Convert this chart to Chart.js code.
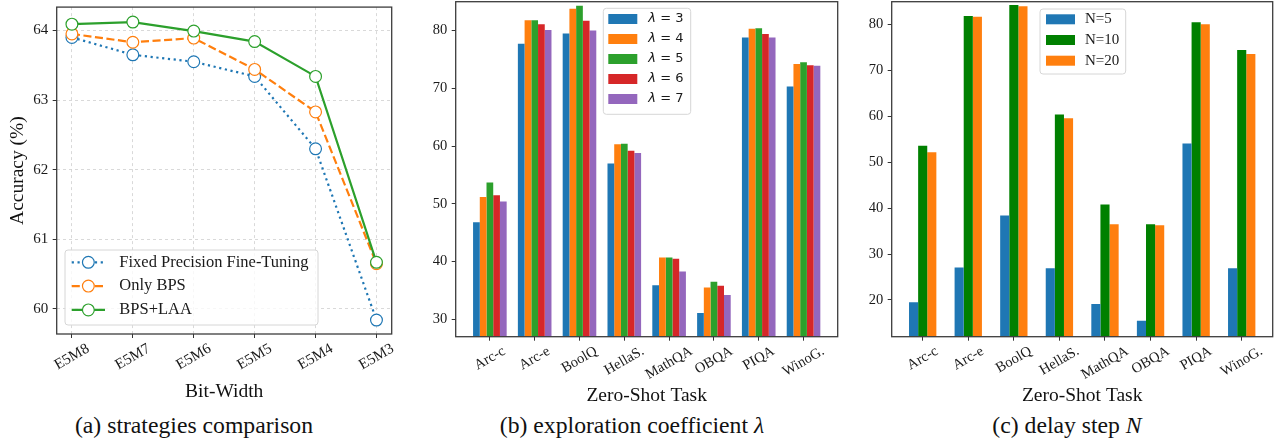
<!DOCTYPE html>
<html>
<head>
<meta charset="utf-8">
<script src="https://cdn.jsdelivr.net/npm/chart.js@4.4.1/dist/chart.umd.min.js"></script>
<style>
  body { margin: 0; background: #fff; width: 1276px; height: 444px; position: relative; overflow: hidden; font-family: 'Liberation Serif', 'Times New Roman', serif; }
  .panel { position: absolute; top: 0; height: 410px; }
  .caption { position: absolute; top: 413.5px; font-size: 23.7px; line-height: 1; color: #111; white-space: nowrap; transform: translateX(-50%); }
</style>
</head>
<body>
<div class="panel" style="left:0;width:410px"><canvas id="chart-a"></canvas></div>
<div class="panel" style="left:420px;width:425px"><canvas id="chart-b"></canvas></div>
<div class="panel" style="left:850px;width:426px"><canvas id="chart-c"></canvas></div>
<div class="caption" style="left:194px">(a) strategies comparison</div>
<div class="caption" style="left:632px">(b) exploration coefficient <i>λ</i></div>
<div class="caption" style="left:1067px">(c) delay step <i>N</i></div>

<script>
// (a) accuracy vs bit-width
const bitWidths = ['E5M8', 'E5M7', 'E5M6', 'E5M5', 'E5M4', 'E5M3'];
const fixedPrecision = [63.90, 63.65, 63.55, 63.34, 62.30, 59.84];
const onlyBps = [63.95, 63.83, 63.89, 63.44, 62.83, 60.65];
const bpsLaa = [64.09, 64.12, 63.99, 63.84, 63.34, 60.67];
const accuracyTicks = [60, 61, 62, 63, 64];

// (b) / (c) zero-shot tasks
const tasks = ['Arc-c', 'Arc-e', 'BoolQ', 'HellaS.', 'MathQA', 'OBQA', 'PIQA', 'WinoG.'];
const lambda3 = [46.8, 77.7, 79.5, 57.0, 35.9, 31.1, 78.8, 70.3];
const lambda4 = [51.2, 81.8, 83.8, 60.3, 40.7, 35.5, 80.3, 74.2];
const lambda5 = [53.7, 81.8, 84.3, 60.4, 40.7, 36.5, 80.4, 74.5];
const lambda6 = [51.5, 81.1, 81.7, 59.2, 40.5, 35.8, 79.4, 74.0];
const lambda7 = [50.4, 80.1, 80.0, 58.8, 38.3, 34.2, 78.8, 73.9];
const lambdaTicks = [30, 40, 50, 60, 70, 80];

const delay5 = [19.5, 27.1, 38.4, 26.9, 19.1, 15.5, 54.1, 26.9];
const delay10 = [53.6, 81.9, 84.3, 60.4, 40.8, 36.5, 80.5, 74.5];
const delay20 = [52.2, 81.7, 84.0, 59.6, 36.5, 36.3, 80.1, 73.6];
const delayTicks = [20, 30, 40, 50, 60, 70, 80];

Chart.defaults.font.family = "'Liberation Serif', 'Times New Roman', serif";
Chart.defaults.color = '#1a1a1a';
Chart.defaults.animation = false;
Chart.defaults.events = [];
Chart.defaults.plugins.legend.display = false;
Chart.defaults.plugins.tooltip.enabled = false;

const TICK_COLOR = '#333';
const points = (values) => values.map((y, x) => ({ x, y }));
const fixTicks = (values) => (scale) => { scale.ticks = values.map((value) => ({ value })); };

// axes box (all four spines)
const frameBox = {
  id: 'frameBox',
  afterDatasetsDraw(chart) {
    const { ctx, chartArea: a } = chart;
    ctx.save();
    ctx.strokeStyle = '#3c3c3c';
    ctx.lineWidth = 1.3;
    ctx.strokeRect(a.left, a.top, a.right - a.left, a.bottom - a.top);
    ctx.restore();
  },
};

// x labels rotated 30deg, centred on the tick like matplotlib
const slantedTicks = {
  id: 'slantedTicks',
  afterDraw(chart, args, opts) {
    const scale = chart.scales.x;
    const { ctx } = chart;
    const angle = Math.PI / 6;
    ctx.save();
    ctx.font = `${opts.size}px 'Liberation Serif', serif`;
    ctx.fillStyle = '#1a1a1a';
    ctx.textAlign = 'center';
    ctx.textBaseline = 'middle';
    scale.ticks.forEach((tick, i) => {
      const text = opts.labels[tick.value];
      const w = ctx.measureText(text).width;
      const boxH = w * Math.sin(angle) + opts.size * 1.1 * Math.cos(angle);
      ctx.save();
      ctx.translate(scale.getPixelForTick(i), chart.chartArea.bottom + opts.gap + boxH / 2);
      ctx.rotate(-angle);
      ctx.fillText(text, 0, 0);
      ctx.restore();
    });
    ctx.restore();
  },
};

// legend drawn inside the axes, with a light frame
const insetLegend = {
  id: 'insetLegend',
  afterDatasetsDraw(chart, args, o) {
    const { ctx } = chart;
    ctx.save();
    ctx.beginPath();
    ctx.roundRect(o.box[0], o.box[1], o.box[2], o.box[3], 3);
    ctx.fillStyle = 'rgba(255,255,255,0.8)';
    ctx.fill();
    ctx.strokeStyle = '#d6d6d6';
    ctx.lineWidth = 1;
    ctx.stroke();
    chart.data.datasets.forEach((ds, i) => {
      const y = o.firstY + i * o.rowGap;
      if (o.kind === 'line') {
        ctx.save();
        ctx.strokeStyle = ds.borderColor;
        ctx.lineWidth = ds.borderWidth;
        ctx.setLineDash(ds.borderDash || []);
        ctx.beginPath();
        ctx.moveTo(o.symbolX, y);
        ctx.lineTo(o.symbolX + o.symbolW, y);
        ctx.stroke();
        ctx.setLineDash([]);
        ctx.beginPath();
        ctx.arc(o.symbolX + o.symbolW / 2, y, ds.pointRadius, 0, Math.PI * 2);
        ctx.fillStyle = '#fff';
        ctx.fill();
        ctx.lineWidth = ds.pointBorderWidth;
        ctx.stroke();
        ctx.restore();
      } else {
        ctx.fillStyle = ds.backgroundColor;
        ctx.fillRect(o.symbolX, y - o.patchH / 2, o.symbolW, o.patchH);
      }
      ctx.fillStyle = '#1a1a1a';
      ctx.textAlign = 'left';
      ctx.textBaseline = 'middle';
      let x = o.textX;
      if (o.italicHead) {
        const head = ds.label.slice(0, 1);
        ctx.font = `italic ${o.size}px ${o.family}`;
        ctx.fillText(head, x, y);
        x += ctx.measureText(head).width;
        ctx.font = `${o.size}px ${o.family}`;
        ctx.fillText(ds.label.slice(1), x, y);
      } else {
        ctx.font = `${o.size}px ${o.family}`;
        ctx.fillText(ds.label, x, y);
      }
    });
    ctx.restore();
  },
};

function valueAxis({ min, max, ticks, width, size, grid, title }) {
  return {
    type: 'linear',
    min,
    max,
    afterBuildTicks: fixTicks(ticks),
    afterFit(scale) { scale.width = width; scale.paddingTop = 0; scale.paddingBottom = 0; },
    ticks: { font: { size }, padding: 4.5, color: '#1a1a1a' },
    grid: { drawOnChartArea: grid, color: '#d0d0d0', lineWidth: 0.8, tickLength: 4, tickColor: TICK_COLOR, tickWidth: 1, tickBorderDash: [] },
    border: { display: false, dash: [3, 3] },
    title: title || { display: false },
  };
}

function indexAxis({ min, max, count, height, grid, title, titlePad }) {
  return {
    type: 'linear',
    min,
    max,
    offset: false,
    afterBuildTicks: fixTicks([...Array(count).keys()]),
    afterFit(scale) { scale.height = height; scale.paddingLeft = 0; scale.paddingRight = 0; },
    ticks: { display: false },
    grid: { offset: false, drawOnChartArea: grid, color: '#d0d0d0', lineWidth: 0.8, tickLength: 4, tickColor: TICK_COLOR, tickWidth: 1, tickBorderDash: [] },
    border: { display: false, dash: [3, 3] },
    title: { display: true, text: title, font: { size: 19.5 }, color: '#111', padding: { top: 0, bottom: titlePad } },
  };
}

const lineStyle = { borderWidth: 2.2, pointRadius: 5.9, pointHoverRadius: 5.9, pointBorderWidth: 1.2, pointBackgroundColor: '#fff', tension: 0, fill: false };

new Chart(document.getElementById('chart-a'), {
  type: 'line',
  data: {
    datasets: [
      { label: 'Fixed Precision Fine-Tuning', data: points(fixedPrecision), borderColor: '#1f77b4', pointBorderColor: '#1f77b4', borderDash: [2.2, 3.6], order: 2, ...lineStyle },
      { label: 'Only BPS', data: points(onlyBps), borderColor: '#ff7f0e', pointBorderColor: '#ff7f0e', borderDash: [8.1, 3.5], order: 1, ...lineStyle },
      { label: 'BPS+LAA', data: points(bpsLaa), borderColor: '#2ca02c', pointBorderColor: '#2ca02c', order: 0, ...lineStyle },
    ],
  },
  options: {
    responsive: true,
    maintainAspectRatio: false,
    layout: { padding: { left: 0, right: 18.3, top: 2.3, bottom: 0 } },
    scales: {
      x: indexAxis({ min: -0.25, max: 5.25, count: bitWidths.length, height: 76, grid: true, title: 'Bit-Width', titlePad: 6.8 }),
      y: valueAxis({
        min: 59.64, max: 64.335, ticks: accuracyTicks, width: 56.7, size: 15, grid: true,
        title: { display: true, text: 'Accuracy (%)', font: { size: 19.5 }, color: '#111', padding: { top: 6.6, bottom: 0 } },
      }),
    },
    plugins: {
      slantedTicks: { labels: bitWidths, size: 15, gap: 6.5 },
      insetLegend: { kind: 'line', box: [65, 250, 253, 75], firstY: 262.3, rowGap: 23.8, symbolX: 71.7, symbolW: 33.3, textX: 119.3, size: 16.5, family: "'Liberation Serif', serif" },
    },
  },
  plugins: [frameBox, insetLegend, slantedTicks],
});

function barSet(label, values, color) {
  return { label, data: points(values), backgroundColor: color, borderWidth: 0 };
}

new Chart(document.getElementById('chart-b'), {
  type: 'bar',
  data: {
    datasets: [
      barSet('λ = 3', lambda3, '#1f77b4'),
      barSet('λ = 4', lambda4, '#ff7f0e'),
      barSet('λ = 5', lambda5, '#2ca02c'),
      barSet('λ = 6', lambda6, '#d62728'),
      barSet('λ = 7', lambda7, '#9467bd'),
    ],
  },
  options: {
    responsive: true,
    maintainAspectRatio: false,
    categoryPercentage: 0.75,
    barPercentage: 1,
    layout: { padding: { left: 0, right: 7.3, top: 1.7, bottom: 0 } },
    scales: {
      x: indexAxis({ min: -0.7625, max: 7.7625, count: tasks.length, height: 73.3, grid: false, title: 'Zero-Shot Task', titlePad: 2 }),
      y: valueAxis({ min: 27, max: 85, ticks: lambdaTicks, width: 35.7, size: 14.5, grid: false }),
    },
    plugins: {
      slantedTicks: { labels: tasks, size: 14.5, gap: 6.5 },
      insetLegend: { kind: 'patch', box: [183.3, 8.3, 87.4, 106], firstY: 19, rowGap: 20, symbolX: 188.3, symbolW: 29, patchH: 10, textX: 228.3, size: 13, family: "'DejaVu Sans', sans-serif", italicHead: true },
    },
  },
  plugins: [frameBox, insetLegend, slantedTicks],
});

new Chart(document.getElementById('chart-c'), {
  type: 'bar',
  data: {
    datasets: [
      barSet('N=5', delay5, '#1f77b4'),
      barSet('N=10', delay10, '#008000'),
      barSet('N=20', delay20, '#ff7f0e'),
    ],
  },
  options: {
    responsive: true,
    maintainAspectRatio: false,
    categoryPercentage: 0.6,
    barPercentage: 1,
    layout: { padding: { left: 0, right: 3.3, top: 1.7, bottom: 0 } },
    scales: {
      x: indexAxis({ min: -0.68, max: 7.68, count: tasks.length, height: 73.3, grid: false, title: 'Zero-Shot Task', titlePad: 2 }),
      y: valueAxis({ min: 12, max: 85, ticks: delayTicks, width: 41.7, size: 14.5, grid: false }),
    },
    plugins: {
      slantedTicks: { labels: tasks, size: 14.5, gap: 6.5 },
      insetLegend: { kind: 'patch', box: [190, 9, 85.7, 65], firstY: 19.3, rowGap: 20.7, symbolX: 196, symbolW: 29, patchH: 10, textX: 235, size: 15, family: "'Liberation Serif', serif" },
    },
  },
  plugins: [frameBox, insetLegend, slantedTicks],
});
</script>
</body>
</html>
